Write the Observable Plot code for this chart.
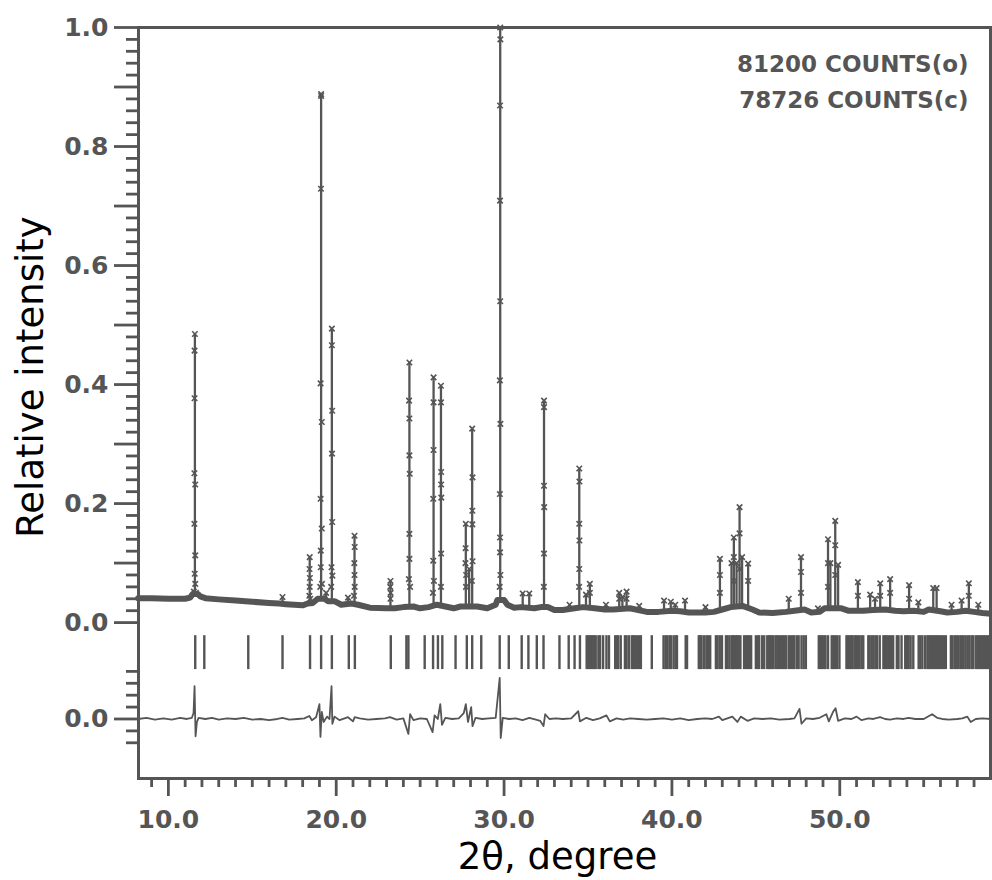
<!DOCTYPE html>
<html>
<head>
<meta charset="utf-8">
<script src="https://cdn.jsdelivr.net/npm/d3@7"></script>
<script src="https://cdn.jsdelivr.net/npm/@observablehq/plot@0.6"></script>
<style>
  html, body { margin: 0; padding: 0; background: #fff; }
  #chart { width: 992px; height: 880px; }
</style>
</head>
<body>
<div id="chart"></div>
<script>
// ---------- data ----------
const xTitle = "2θ, degree";
const yTitle = "Relative intensity";
const countLabels = ["81200 COUNTS(o)", "78726 COUNTS(c)"];

const xMajorTicks = [10, 20, 30, 40, 50];
const yLabelValues = [0.0, 0.2, 0.4, 0.6, 0.8, 1.0];
const yLabelText = ["0.0", "0.2", "0.4", "0.6", "0.8", "1.0"];
const diffLabelText = "0.0";

// background of the observed profile [2θ, I]
const background = [
  [8.2,0.041],[9.0,0.041],[10.0,0.040],[11.0,0.040],[11.3,0.042],[11.45,0.048],[11.75,0.048],
  [11.9,0.044],[12.2,0.041],[13.0,0.039],[14.0,0.037],[15.0,0.035],[16.0,0.033],[16.6,0.032],
  [17.0,0.031],[17.5,0.030],[18.0,0.029],[18.3,0.032],[18.6,0.033],[18.9,0.040],[19.3,0.040],
  [19.5,0.036],[19.9,0.036],[20.3,0.030],[20.9,0.032],[21.3,0.030],[22.0,0.025],[23.0,0.024],
  [23.5,0.024],[24.0,0.026],[24.6,0.027],[25.0,0.024],[25.5,0.026],[26.0,0.030],[26.5,0.027],
  [27.0,0.024],[27.4,0.027],[28.4,0.027],[29.0,0.024],[29.5,0.030],[29.6,0.038],[30.0,0.038],
  [30.2,0.030],[30.6,0.025],[31.0,0.026],[31.8,0.024],[32.2,0.026],[32.6,0.026],[33.0,0.021],
  [33.5,0.021],[34.2,0.024],[34.7,0.026],[35.4,0.024],[36.0,0.022],[36.5,0.022],[37.5,0.024],
  [38.5,0.018],[39.2,0.018],[40.0,0.020],[40.5,0.019],[41.0,0.017],[42.0,0.017],[42.5,0.018],
  [43.0,0.022],[43.5,0.026],[44.2,0.028],[44.8,0.022],[45.2,0.017],[46.0,0.016],[46.8,0.018],
  [47.3,0.020],[47.9,0.022],[48.3,0.017],[48.8,0.018],[49.1,0.024],[50.1,0.024],[50.5,0.020],
  [51.4,0.020],[52.0,0.021],[52.7,0.022],[53.3,0.020],[53.8,0.019],[54.4,0.020],[55.0,0.018],
  [55.3,0.022],[56.0,0.019],[56.4,0.017],[57.0,0.018],[57.5,0.020],[58.0,0.018],[58.5,0.016],
  [59.0,0.015]
];

// reflections: position, calculated top, local base
const peakTheta = [11.58,16.80,18.42,19.10,19.40,19.74,20.70,21.09,23.23,24.36,25.80,26.24,27.72,27.92,28.10,
  29.77,31.11,31.50,32.38,33.90,34.48,34.88,35.11,36.07,36.86,37.05,37.30,38.05,39.53,39.93,40.20,40.78,
  42.00,42.86,43.55,43.69,43.85,44.03,44.18,44.54,46.96,47.69,48.70,49.30,49.44,49.73,49.90,51.08,51.81,
  52.10,52.41,53.00,54.13,54.68,55.57,55.77,56.66,57.26,57.69,58.25];
const peakTop = [0.485,0.043,0.110,0.888,0.050,0.494,0.042,0.146,0.070,0.437,0.412,0.398,0.166,0.090,0.326,
  1.000,0.049,0.049,0.373,0.030,0.259,0.047,0.065,0.030,0.050,0.043,0.052,0.028,0.037,0.035,0.030,0.037,
  0.026,0.107,0.100,0.143,0.100,0.194,0.110,0.099,0.040,0.110,0.024,0.140,0.100,0.171,0.097,0.068,0.047,
  0.040,0.066,0.073,0.063,0.034,0.058,0.058,0.030,0.037,0.066,0.030];
const peakBase = [0.045,0.032,0.031,0.040,0.038,0.036,0.031,0.031,0.024,0.026,0.027,0.028,0.027,0.028,0.027,
  0.035,0.026,0.025,0.026,0.022,0.025,0.026,0.025,0.022,0.023,0.024,0.024,0.020,0.019,0.020,0.019,0.018,
  0.017,0.020,0.025,0.026,0.027,0.027,0.027,0.024,0.018,0.021,0.018,0.024,0.024,0.024,0.024,0.020,0.020,
  0.021,0.021,0.021,0.020,0.019,0.021,0.021,0.017,0.019,0.020,0.017];

// observed points on the flanks of the peaks [2θ, I]
const obsFlank = [
  [11.56,0.457],[11.56,0.377],[11.55,0.251],[11.60,0.232],[11.55,0.166],[11.60,0.113],[11.57,0.082],[11.60,0.065],[11.52,0.052],[11.64,0.050],
  [18.41,0.090],[18.43,0.075],[18.42,0.060],[18.40,0.045],[18.45,0.040],
  [19.10,0.885],[19.09,0.729],[19.07,0.402],[19.07,0.208],[19.08,0.121],[19.08,0.093],[19.14,0.337],[19.14,0.158],[19.05,0.060],[19.15,0.065],
  [19.74,0.466],[19.76,0.356],[19.75,0.284],[19.76,0.169],[19.72,0.093],[19.77,0.079],[19.70,0.060],
  [21.10,0.127],[21.08,0.100],[21.09,0.080],[21.10,0.060],[21.06,0.045],
  [23.22,0.060],[23.24,0.050],[23.23,0.040],
  [24.34,0.373],[24.36,0.343],[24.36,0.281],[24.38,0.250],[24.36,0.149],[24.36,0.107],[24.33,0.073],[24.40,0.060],
  [25.80,0.370],[25.80,0.290],[25.78,0.208],[25.78,0.104],[25.82,0.070],[25.76,0.050],
  [26.24,0.370],[26.25,0.253],[26.25,0.232],[26.26,0.210],[26.25,0.116],[26.24,0.060],
  [27.71,0.125],[27.70,0.100],[27.74,0.080],[27.73,0.060],
  [28.12,0.244],[28.11,0.188],[28.11,0.165],[28.12,0.103],[28.08,0.070],
  [29.78,0.980],[29.76,0.869],[29.76,0.709],[29.77,0.540],[29.75,0.407],[29.78,0.334],[29.75,0.216],[29.76,0.143],[29.76,0.118],[29.78,0.080],[29.74,0.060],
  [32.38,0.362],[32.38,0.230],[32.39,0.194],[32.38,0.116],[32.37,0.060],
  [34.49,0.237],[34.48,0.166],[34.49,0.138],[34.48,0.090],[34.47,0.060],
  [35.11,0.050],[36.86,0.040],[37.30,0.040],[42.86,0.080],[42.86,0.050],[43.69,0.110],[43.70,0.070],
  [44.03,0.150],[44.03,0.090],[44.54,0.070],[47.69,0.085],[47.69,0.050],[49.30,0.100],[49.30,0.060],
  [49.73,0.130],[49.73,0.080],[51.08,0.045],[52.41,0.045],[53.00,0.050],[54.13,0.040],[57.69,0.045]
];

// Bragg reflection positions (2θ)
const braggTheta = [11.60,12.14,14.76,16.80,18.44,19.10,19.74,20.75,21.11,23.25,24.18,24.30,25.27,25.77,26.06,
  26.32,27.11,27.78,28.10,28.64,29.74,30.28,31.05,31.45,31.95,32.35,33.30,33.85,34.20,34.52,
  34.92,35.02,35.10,35.20,35.28,35.38,35.46,35.62,35.72,35.90,36.10,36.25,36.62,36.72,36.80,36.95,
  37.20,37.30,37.45,37.62,37.70,37.80,37.92,38.05,38.15,38.80,39.50,39.62,39.72,39.85,39.95,40.10,
  40.22,40.30,40.82,40.90,41.60,41.68,41.76,41.90,42.05,42.15,42.28,42.62,42.72,42.85,42.98,43.22,
  43.30,43.42,43.55,43.62,43.70,43.80,43.88,43.98,44.08,44.30,44.42,44.50,44.60,44.72,45.00,45.12,
  45.20,45.38,45.50,45.68,45.78,45.85,45.95,46.05,46.18,46.28,46.38,46.50,46.62,46.72,46.82,46.98,
  47.10,47.22,47.30,47.45,47.55,47.72,47.85,47.98,48.75,48.84,48.95,49.05,49.15,49.30,49.52,49.62,
  49.72,49.84,49.98,50.40,50.48,50.58,50.68,50.76,50.88,50.98,51.08,51.18,51.30,51.40,51.70,51.78,
  51.90,52.00,52.12,52.22,52.38,52.60,52.70,52.80,52.92,53.05,53.18,53.40,53.50,53.68,53.90,54.00,
  54.10,54.22,54.38,54.70,54.80,54.92,55.08,55.22,55.30,55.40,55.50,55.60,55.70,55.78,55.88,55.98,
  56.08,56.20,56.32,56.62,56.72,56.85,56.95,57.05,57.18,57.28,57.38,57.50,57.62,57.72,57.85,57.95,
  58.10,58.20,58.30,58.40,58.50,58.60,58.70,58.80,58.90];

// difference (obs - calc) [2θ, Δ]
const difference = [
  [8.2,0.000],[8.7,0.002],[9.2,-0.001],[9.7,0.001],[10.2,-0.001],[10.7,0.002],[11.1,0.000],[11.4,0.002],
  [11.50,0.010],[11.56,0.055],[11.62,-0.029],[11.70,-0.005],[11.80,0.002],[12.2,0.000],[12.6,0.002],
  [13.0,-0.001],[13.5,0.001],[14.0,0.000],[14.5,0.002],[15.0,-0.001],[15.5,0.000],[16.0,-0.002],[16.5,0.000],
  [16.8,0.002],[17.2,-0.001],[17.7,0.000],[18.1,0.001],[18.40,0.005],[18.55,-0.002],[18.80,0.003],
  [19.00,0.025],[19.06,-0.030],[19.14,0.012],[19.25,-0.005],[19.45,0.004],[19.60,0.000],[19.72,0.055],
  [19.77,-0.008],[19.90,0.004],[20.2,-0.002],[20.5,0.001],[20.7,0.003],[21.00,-0.004],[21.10,0.003],
  [21.4,0.001],[21.9,-0.001],[22.4,0.000],[22.9,0.001],[23.20,0.003],[23.6,-0.001],[24.0,0.001],
  [24.30,-0.025],[24.40,0.008],[24.60,-0.002],[25.0,0.001],[25.4,0.000],[25.74,-0.022],[25.86,0.006],
  [26.05,0.000],[26.20,0.025],[26.30,-0.010],[26.50,0.002],[26.9,0.000],[27.3,0.001],[27.60,0.010],
  [27.72,0.025],[27.85,-0.005],[28.04,0.020],[28.12,-0.012],[28.30,0.002],[28.7,0.000],[29.1,0.001],
  [29.5,0.002],[29.74,0.069],[29.80,-0.032],[29.92,0.002],[30.3,0.000],[30.7,0.001],[31.1,-0.002],
  [31.5,0.002],[31.9,-0.001],[32.15,-0.003],[32.35,-0.012],[32.45,0.008],[32.70,0.000],[33.1,0.001],
  [33.5,0.000],[34.0,0.001],[34.42,0.013],[34.52,-0.004],[34.9,0.002],[35.3,-0.002],[35.7,0.001],
  [36.10,0.006],[36.30,-0.004],[36.7,0.001],[37.1,-0.001],[37.5,0.001],[38.0,0.000],[38.5,-0.001],
  [39.0,0.000],[39.5,0.001],[40.0,-0.001],[40.5,0.001],[41.0,-0.002],[41.5,0.000],[42.0,0.001],
  [42.40,0.000],[42.80,0.004],[43.00,-0.002],[43.30,0.001],[43.60,0.004],[43.90,-0.005],[44.10,0.004],
  [44.50,-0.003],[44.9,0.001],[45.4,0.000],[45.9,0.001],[46.4,-0.001],[47.0,0.000],[47.30,0.001],
  [47.60,0.017],[47.72,-0.008],[48.0,0.001],[48.4,0.000],[48.8,0.002],[49.20,0.008],[49.35,-0.004],
  [49.60,0.012],[49.75,0.018],[49.90,-0.003],[50.3,0.001],[50.7,0.000],[51.0,0.004],[51.3,-0.002],
  [51.7,0.001],[52.0,0.000],[52.4,0.003],[52.7,0.000],[53.0,-0.001],[53.4,0.001],[53.8,0.000],
  [54.1,0.002],[54.5,0.000],[55.0,0.000],[55.50,0.008],[55.80,0.002],[56.1,0.000],[56.5,-0.001],
  [57.0,0.000],[57.3,0.001],[57.60,0.004],[57.80,-0.005],[58.1,0.000],[58.5,0.001],[59.0,0.000]
];

// ---------- layout constants ----------
const grey = "#555";
const diffZero = -0.162;          // vertical offset of the difference curve
const braggTop = -0.022, braggBottom = -0.079;

const peaks = peakTheta.map((t, i) => ({t, top: peakTop[i], base: peakBase[i]}));
const yLongTicks = [0.0,0.1,0.2,0.3,0.4,0.5,0.6,0.7,0.8,0.9,1.0, diffZero];
const yMinorTicks = d3.range(1, 50).filter(i => i % 5 !== 0).map(i => i / 50)
  .concat([0.08, 0.06, 0.04, 0.02, -0.02, -0.04].map(d => d + diffZero));
const xMinorTicks = d3.range(9, 59).filter(v => v % 10 !== 0);

const yFormat = d => {
  if (d === diffZero) return diffLabelText;
  const i = yLabelValues.indexOf(d);
  return i >= 0 ? yLabelText[i] : "";
};

const chart = Plot.plot({
  width: 992,
  height: 880,
  marginLeft: 138,
  marginTop: 27,
  marginRight: 2,
  marginBottom: 102,
  x: {domain: [8.22, 58.98]},
  y: {domain: [-0.262, 1.0]},
  style: {fontFamily: "DejaVu Sans", background: "white", overflow: "visible"},
  marks: [
    // dense observed points along the baseline
    Plot.line(background, {x: d => d[0], y: d => d[1], stroke: grey, strokeWidth: 6, strokeLinejoin: "round"}),
    // calculated peaks
    Plot.ruleX(peaks, {x: "t", y1: "base", y2: "top", stroke: grey, strokeWidth: 2.3}),
    // observed points
    Plot.dot(obsFlank, {x: d => d[0], y: d => d[1], symbol: "times", r: 2.6, stroke: grey, strokeWidth: 1.6}),
    Plot.dot(peaks, {x: "t", y: "top", symbol: "times", r: 2.6, stroke: grey, strokeWidth: 1.6}),
    // Bragg positions
    Plot.ruleX(braggTheta, {x: d => d, y1: braggTop, y2: braggBottom, stroke: grey, strokeWidth: 2.4}),
    // difference curve
    Plot.line(difference, {x: d => d[0], y: d => d[1] + diffZero, stroke: grey, strokeWidth: 1.8}),
    // frame
    Plot.frame({stroke: grey, strokeWidth: 3}),
    // axes
    Plot.axisX({ticks: xMajorTicks, tickSize: 18, tickPadding: 14, tickFormat: d3.format(".1f"),
      fontSize: 25, fontWeight: "bold", color: grey, strokeWidth: 2.8, label: null}),
    Plot.axisX({ticks: xMinorTicks, tickSize: 9, tickFormat: () => "", color: grey, strokeWidth: 2.8, label: null}),
    Plot.axisY({ticks: yLongTicks, tickSize: 24, tickPadding: 6, tickFormat: yFormat,
      fontSize: 25, fontWeight: "bold", color: grey, strokeWidth: 2.8, label: null}),
    Plot.axisY({ticks: yMinorTicks, tickSize: 12, tickFormat: () => "", color: grey, strokeWidth: 2.8, label: null}),
    // titles and annotation
    Plot.text([countLabels.join("\n")], {frameAnchor: "top-right", textAnchor: "end", lineAnchor: "top",
      lineHeight: 1.56, dx: -22, dy: 19, fontSize: 23, fontWeight: "bold", fill: grey}),
    Plot.text([yTitle], {frameAnchor: "left", rotate: -90, textAnchor: "middle", lineAnchor: "middle",
      dx: -107, dy: -26, fontSize: 37, fill: "black"}),
    Plot.text([xTitle], {frameAnchor: "bottom", textAnchor: "middle", lineAnchor: "middle",
      dx: -7, dy: 79, fontSize: 37, fill: "black"})
  ]
});

document.getElementById("chart").appendChild(chart);
</script>
</body>
</html>
